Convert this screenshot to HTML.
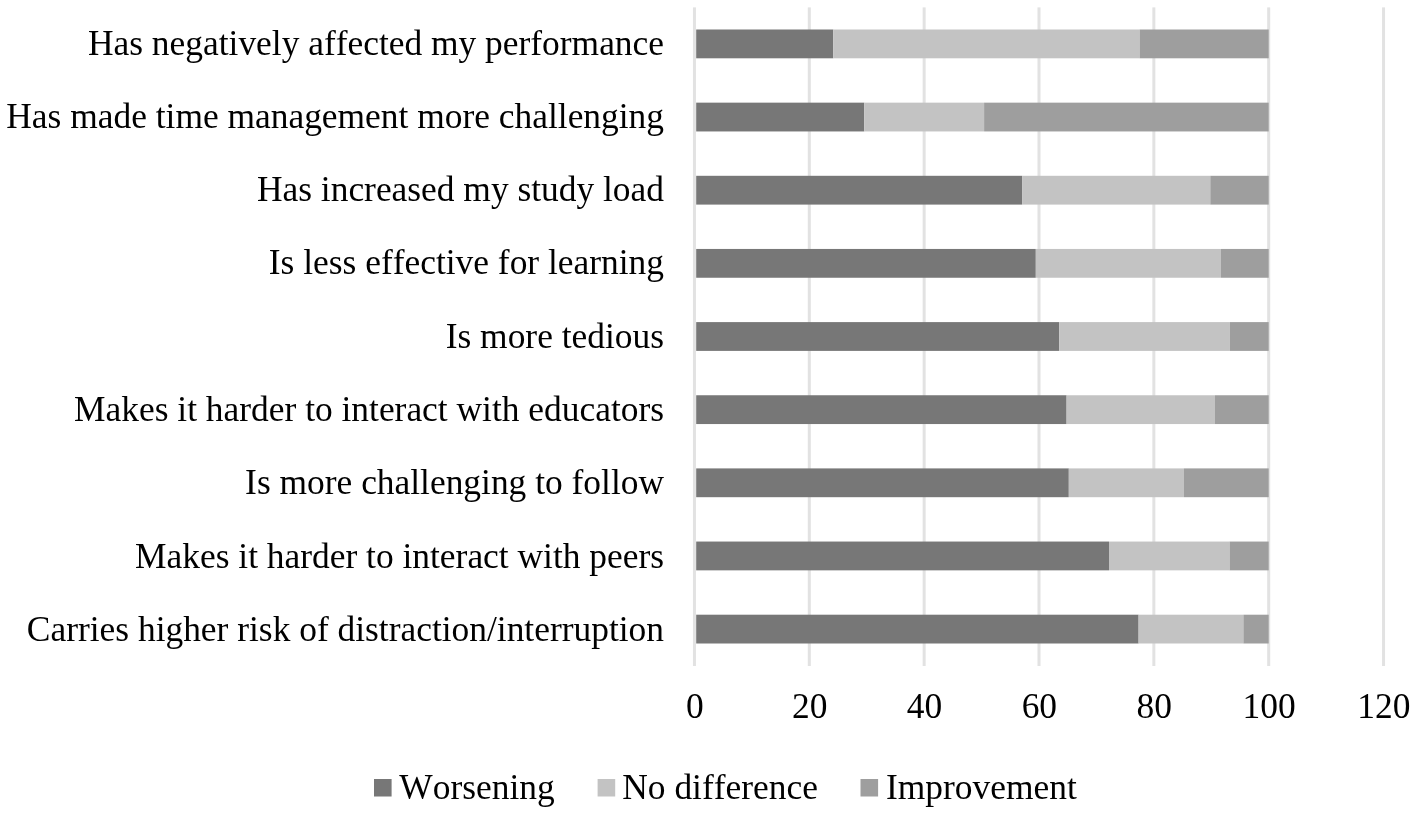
<!DOCTYPE html>
<html lang="en"><head><meta charset="utf-8"><title>Chart</title>
<style>
html,body{margin:0;padding:0;background:#fff;}
body{width:1417px;height:814px;overflow:hidden;}
svg{display:block;}
text{font-family:"Liberation Serif","Times New Roman",serif;font-size:35.42px;fill:#000;font-kerning:none;}
</style></head><body>
<svg width="1417" height="814" viewBox="0 0 1417 814">
<rect x="0" y="0" width="1417" height="814" fill="#ffffff"/>
<rect x="692.95" y="7.40" width="3" height="658.60" fill="#e2e2e2"/>
<rect x="807.80" y="7.40" width="3" height="658.60" fill="#e2e2e2"/>
<rect x="922.65" y="7.40" width="3" height="658.60" fill="#e2e2e2"/>
<rect x="1037.50" y="7.40" width="3" height="658.60" fill="#e2e2e2"/>
<rect x="1152.35" y="7.40" width="3" height="658.60" fill="#e2e2e2"/>
<rect x="1267.20" y="7.40" width="3" height="658.60" fill="#e2e2e2"/>
<rect x="1382.05" y="7.40" width="3" height="658.60" fill="#e2e2e2"/>
<rect x="696.20" y="29.50" width="137.10" height="28.80" fill="#777777"/><rect x="833.30" y="29.50" width="306.30" height="28.80" fill="#c3c3c3"/><rect x="1139.60" y="29.50" width="129.10" height="28.80" fill="#9e9e9e"/>
<rect x="696.20" y="102.65" width="168.00" height="28.80" fill="#777777"/><rect x="864.20" y="102.65" width="119.90" height="28.80" fill="#c3c3c3"/><rect x="984.10" y="102.65" width="284.60" height="28.80" fill="#9e9e9e"/>
<rect x="696.20" y="175.80" width="325.90" height="28.80" fill="#777777"/><rect x="1022.10" y="175.80" width="188.20" height="28.80" fill="#c3c3c3"/><rect x="1210.30" y="175.80" width="58.40" height="28.80" fill="#9e9e9e"/>
<rect x="696.20" y="248.95" width="339.60" height="28.80" fill="#777777"/><rect x="1035.80" y="248.95" width="185.10" height="28.80" fill="#c3c3c3"/><rect x="1220.90" y="248.95" width="47.80" height="28.80" fill="#9e9e9e"/>
<rect x="696.20" y="322.10" width="363.00" height="28.80" fill="#777777"/><rect x="1059.20" y="322.10" width="170.50" height="28.80" fill="#c3c3c3"/><rect x="1229.70" y="322.10" width="39.00" height="28.80" fill="#9e9e9e"/>
<rect x="696.20" y="395.25" width="370.40" height="28.80" fill="#777777"/><rect x="1066.60" y="395.25" width="148.40" height="28.80" fill="#c3c3c3"/><rect x="1215.00" y="395.25" width="53.70" height="28.80" fill="#9e9e9e"/>
<rect x="696.20" y="468.40" width="372.60" height="28.80" fill="#777777"/><rect x="1068.80" y="468.40" width="115.10" height="28.80" fill="#c3c3c3"/><rect x="1183.90" y="468.40" width="84.80" height="28.80" fill="#9e9e9e"/>
<rect x="696.20" y="541.55" width="412.80" height="28.80" fill="#777777"/><rect x="1109.00" y="541.55" width="120.60" height="28.80" fill="#c3c3c3"/><rect x="1229.60" y="541.55" width="39.10" height="28.80" fill="#9e9e9e"/>
<rect x="696.20" y="614.70" width="442.40" height="28.80" fill="#777777"/><rect x="1138.60" y="614.70" width="104.80" height="28.80" fill="#c3c3c3"/><rect x="1243.40" y="614.70" width="25.30" height="28.80" fill="#9e9e9e"/>
<text x="664" y="55" text-anchor="end">Has negatively affected my performance</text>
<text x="664" y="128" text-anchor="end">Has made time management more challenging</text>
<text x="664" y="201" text-anchor="end">Has increased my study load</text>
<text x="664" y="274" text-anchor="end">Is less effective for learning</text>
<text x="664" y="348" text-anchor="end">Is more tedious</text>
<text x="664" y="421" text-anchor="end">Makes it harder to interact with educators</text>
<text x="664" y="494" text-anchor="end">Is more challenging to follow</text>
<text x="664" y="568" text-anchor="end">Makes it harder to interact with peers</text>
<text x="664" y="641" text-anchor="end">Carries higher risk of distraction/interruption</text>
<text x="694.80" y="718" text-anchor="middle">0</text>
<text x="809.65" y="718" text-anchor="middle">20</text>
<text x="924.50" y="718" text-anchor="middle">40</text>
<text x="1039.35" y="718" text-anchor="middle">60</text>
<text x="1154.20" y="718" text-anchor="middle">80</text>
<text x="1269.05" y="718" text-anchor="middle">100</text>
<text x="1383.90" y="718" text-anchor="middle">120</text>
<rect x="374" y="779.0" width="17.6" height="17.5" fill="#777777"/><text x="399.3" y="799">Worsening</text>
<rect x="597.6" y="779.0" width="17.6" height="17.5" fill="#c3c3c3"/><text x="622.3" y="799">No difference</text>
<rect x="860.5" y="779.0" width="17.6" height="17.5" fill="#9e9e9e"/><text x="886" y="799">Improvement</text>
</svg>
</body></html>
